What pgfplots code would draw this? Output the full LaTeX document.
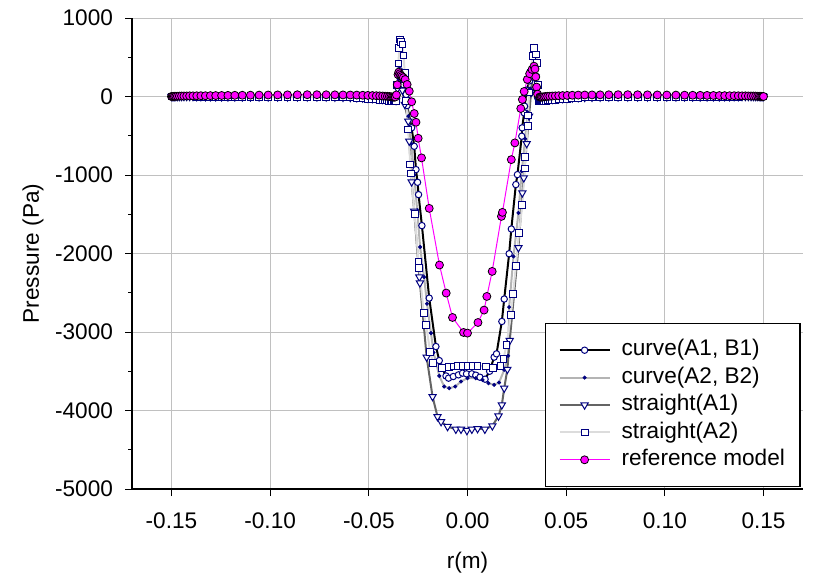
\documentclass[border=0pt]{standalone}
\usepackage{fontspec}
\setmainfont{Liberation Sans}
\usepackage{pgfplots}
\pgfplotsset{compat=1.18}
\usepackage{pgfplotstable}
\definecolor{navy}{HTML}{000080}
\definecolor{gridc}{HTML}{C0C0C0}
\definecolor{lgray}{HTML}{B4B4B4}
\definecolor{dgray}{HTML}{646464}
\definecolor{vlgray}{HTML}{DCDCDC}
\definecolor{mag}{HTML}{FF00FF}
\newcommand{\fnt}{\fontsize{11.3bp}{13.3bp}\selectfont}

% columns: c1 = curve(A1,B1), c2 = curve(A2,B2), s1 = straight(A1), s2 = straight(A2), ref = reference model
\pgfplotstableread{
x c1 c2 s1 s2 ref
-0.1500 0 0 0 0 0
-0.1496 0 0 0 0 0
-0.1491 0 0 0 0 1
-0.1485 0 0 0 0 2
-0.1478 0 0 0 0 3
-0.1470 0 0 0 0 4
-0.1460 0 0 0 0 5
-0.1449 0 0 0 0 6
-0.1437 0 0 0 0 6
-0.1423 0 0 0 0 7
-0.1408 0 0 0 0 8
-0.1391 0 0 0 0 8
-0.1372 -2 -2 -2 -2 9
-0.1351 -2 -2 -2 -2 10
-0.1328 -3 -3 -3 -3 10
-0.1303 -3 -3 -3 -3 11
-0.1276 -4 -4 -4 -4 12
-0.1246 -4 -4 -4 -4 13
-0.1214 -5 -5 -5 -5 14
-0.1179 -5 -5 -5 -5 15
-0.1141 -5 -5 -5 -5 16
-0.1100 -5 -5 -5 -5 17
-0.1056 -5 -5 -5 -5 18
-0.1010 -5 -5 -5 -5 19
-0.0962 -5 -5 -5 -5 20
-0.0912 -5 -5 -5 -5 21
-0.0862 -5 -5 -5 -5 22
-0.0812 -5 -5 -5 -5 23
-0.0763 -5 -5 -5 -5 23
-0.0716 -6 -6 -6 -6 22
-0.0672 -8 -8 -8 -8 21
-0.0631 -10 -10 -10 -10 20
-0.0594 -12 -12 -12 -14 19
-0.0561 -15 -15 -15 -18 18
-0.0531 -18 -18 -18 -22 16
-0.0505 -22 -22 -22 -27 14
-0.0482 -26 -26 -26 -32 12
-0.0462 -30 -30 -30 -37 10
-0.0445 -33 -33 -33 -42 8
-0.0430 -36 -36 -36 -46 6
-0.0417 -38 -38 -38 -50 4
-0.0406 -40 -40 -40 -52 2
-0.0396 -40 -40 -40 -54 0
-0.0388 -40 -40 -40 -55 -3
-0.0381 -40 -40 -40 -55 -6
-0.0375 -38 -38 -38 -55 -8
-0.0370 -36 -36 -36 -55 -8
-0.0366 -34 -34 -34 -55 -6
-0.0360 -30 nan nan nan nan
-0.0354 150 nan nan nan nan
-0.0349 300 nan nan nan nan
-0.0344 330 nan nan nan nan
-0.0337 260 nan nan nan nan
-0.0326 150 nan nan nan nan
-0.0318 80 nan nan nan nan
-0.0311 26 nan nan nan nan
-0.0306 -115 nan nan nan nan
-0.0283 -399 nan nan nan nan
-0.0270 -634 nan nan nan nan
-0.0261 -931 nan nan nan nan
-0.0253 -1093 nan nan nan nan
-0.0248 -1250 nan nan nan nan
-0.0231 -1645 nan nan nan nan
-0.0194 -2568 nan nan nan nan
-0.0160 -3185 nan nan nan nan
-0.0143 -3364 nan nan nan nan
-0.0131 -3450 nan nan nan nan
-0.0109 -3560 nan nan nan nan
-0.0096 -3588 nan nan nan nan
-0.0072 -3567 nan nan nan nan
-0.0046 -3546 nan nan nan nan
-0.0025 -3524 nan nan nan nan
-0.0005 -3533 nan nan nan nan
0.0022 -3533 nan nan nan nan
0.0042 -3550 nan nan nan nan
0.0063 -3576 nan nan nan nan
0.0089 -3601 nan nan nan nan
0.0112 -3500 nan nan nan nan
0.0135 -3320 nan nan nan nan
0.0147 -3278 nan nan nan nan
0.0174 -2866 nan nan nan nan
0.0186 -2580 nan nan nan nan
0.0211 -2003 nan nan nan nan
0.0222 -1688 nan nan nan nan
0.0245 -1122 nan nan nan nan
0.0253 -995 nan nan nan nan
0.0275 -506 nan nan nan nan
0.0277 -399 nan nan nan nan
0.0287 -208 nan nan nan nan
0.0289 -124 nan nan nan nan
0.0300 80 nan nan nan nan
0.0315 200 nan nan nan nan
0.0328 300 nan nan nan nan
0.0336 340 nan nan nan nan
0.0344 260 nan nan nan nan
0.0350 120 nan nan nan nan
0.0356 -20 nan nan nan nan
-0.0360 nan -40 nan nan nan
-0.0354 nan 120 nan nan nan
-0.0348 nan 280 nan nan nan
-0.0342 nan 320 nan nan nan
-0.0335 nan 250 nan nan nan
-0.0325 nan 100 nan nan nan
-0.0312 nan -50 nan nan nan
-0.0300 nan -250 nan nan nan
-0.0285 nan -600 nan nan nan
-0.0270 nan -1000 nan nan nan
-0.0255 nan -1450 nan nan nan
-0.0240 nan -1917 nan nan nan
-0.0220 nan -2300 nan nan nan
-0.0205 nan -2640 nan nan nan
-0.0185 nan -3014 nan nan nan
-0.0172 nan -3261 nan nan nan
-0.0143 nan -3559 nan nan nan
-0.0118 nan -3695 nan nan nan
-0.0093 nan -3716 nan nan nan
-0.0062 nan -3695 nan nan nan
-0.0033 nan -3631 nan nan nan
0.0000 nan -3588 nan nan nan
0.0042 nan -3588 nan nan nan
0.0076 nan -3610 nan nan nan
0.0106 nan -3652 nan nan nan
0.0135 nan -3673 nan nan nan
0.0160 nan -3644 nan nan nan
0.0186 nan -3482 nan nan nan
0.0206 nan -3304 nan nan nan
0.0211 nan -2683 nan nan nan
0.0233 nan -2037 nan nan nan
0.0258 nan -1484 nan nan nan
0.0275 nan -950 nan nan nan
0.0292 nan -540 nan nan nan
0.0305 nan -200 nan nan nan
0.0318 nan 100 nan nan nan
0.0328 nan 280 nan nan nan
0.0336 nan 330 nan nan nan
0.0343 nan 250 nan nan nan
0.0350 nan 100 nan nan nan
0.0357 nan -30 nan nan nan
-0.0362 nan nan -50 nan nan
-0.0355 nan nan 100 nan nan
-0.0350 nan nan 250 nan nan
-0.0345 nan nan 300 nan nan
-0.0338 nan nan 220 nan nan
-0.0330 nan nan 80 nan nan
-0.0318 nan nan -100 nan nan
-0.0300 nan nan -315 nan nan
-0.0295 nan nan -570 nan nan
-0.0283 nan nan -1088 nan nan
-0.0270 nan nan -1463 nan nan
-0.0244 nan nan -2300 nan nan
-0.0241 nan nan -2376 nan nan
-0.0207 nan nan -3320 nan nan
-0.0177 nan nan -3823 nan nan
-0.0152 nan nan -4078 nan nan
-0.0134 nan nan -4142 nan nan
-0.0101 nan nan -4205 nan nan
-0.0059 nan nan -4239 nan nan
-0.0033 nan nan -4239 nan nan
-0.0003 nan nan -4256 nan nan
0.0022 nan nan -4239 nan nan
0.0051 nan nan -4231 nan nan
0.0088 nan nan -4239 nan nan
0.0126 nan nan -4196 nan nan
0.0157 nan nan -4071 nan nan
0.0174 nan nan -3929 nan nan
0.0186 nan nan -3716 nan nan
0.0202 nan nan -3476 nan nan
0.0214 nan nan -3108 nan nan
0.0258 nan nan -1926 nan nan
0.0278 nan nan -1228 nan nan
0.0285 nan nan -1037 nan nan
0.0300 nan nan -600 nan nan
0.0312 nan nan -250 nan nan
0.0322 nan nan 50 nan nan
0.0330 nan nan 250 nan nan
0.0337 nan nan 330 nan nan
0.0345 nan nan 250 nan nan
0.0352 nan nan 100 nan nan
0.0358 nan nan -40 nan nan
-0.0362 nan nan nan -60 nan
-0.0356 nan nan nan 150 nan
-0.0350 nan nan nan 420 nan
-0.0346 nan nan nan 620 nan
-0.0342 nan nan nan 727 nan
-0.0337 nan nan nan 693 nan
-0.0329 nan nan nan 663 nan
-0.0324 nan nan nan 523 nan
-0.0318 nan nan nan 300 nan
-0.0311 nan nan nan -60 nan
-0.0300 nan nan nan -420 nan
-0.0290 nan nan nan -867 nan
-0.0287 nan nan nan -982 nan
-0.0268 nan nan nan -1500 nan
-0.0248 nan nan nan -2113 nan
-0.0244 nan nan nan -2185 nan
-0.0222 nan nan nan -2759 nan
-0.0210 nan nan nan -2908 nan
-0.0189 nan nan nan -3256 nan
-0.0173 nan nan nan -3397 nan
-0.0128 nan nan nan -3460 nan
-0.0093 nan nan nan -3448 nan
-0.0071 nan nan nan -3440 nan
-0.0051 nan nan nan -3431 nan
-0.0025 nan nan nan -3431 nan
0.0000 nan nan nan -3431 nan
0.0025 nan nan nan -3431 nan
0.0051 nan nan nan -3431 nan
0.0093 nan nan nan -3440 nan
0.0131 nan nan nan -3460 nan
0.0167 nan nan nan -3431 nan
0.0182 nan nan nan -3346 nan
0.0198 nan nan nan -3163 nan
0.0220 nan nan nan -2780 nan
0.0231 nan nan nan -2513 nan
0.0245 nan nan nan -2164 nan
0.0261 nan nan nan -1739 nan
0.0278 nan nan nan -1378 nan
0.0290 nan nan nan -918 nan
0.0293 nan nan nan -769 nan
0.0305 nan nan nan -379 nan
0.0307 nan nan nan -242 nan
0.0312 nan nan nan 50 nan
0.0320 nan nan nan 300 nan
0.0329 nan nan nan 514 nan
0.0337 nan nan nan 621 nan
0.0346 nan nan nan 536 nan
0.0354 nan nan nan 430 nan
0.0358 nan nan nan 150 nan
0.0362 nan nan nan -60 nan
-0.0360 nan nan nan nan 20
-0.0356 nan nan nan nan 150
-0.0352 nan nan nan nan 280
-0.0348 nan nan nan nan 310
-0.0343 nan nan nan nan 290
-0.0338 nan nan nan nan 270
-0.0332 nan nan nan nan 255
-0.0325 nan nan nan nan 240
-0.0316 nan nan nan nan 217
-0.0306 nan nan nan nan 153
-0.0295 nan nan nan nan 68
-0.0283 nan nan nan nan -67
-0.0270 nan nan nan nan -217
-0.0261 nan nan nan nan -328
-0.0250 nan nan nan nan -532
-0.0233 nan nan nan nan -782
-0.0194 nan nan nan nan -1425
-0.0142 nan nan nan nan -2147
-0.0108 nan nan nan nan -2504
-0.0076 nan nan nan nan -2815
-0.0020 nan nan nan nan -3006
0.0000 nan nan nan nan -3014
0.0053 nan nan nan nan -2879
0.0084 nan nan nan nan -2721
0.0098 nan nan nan nan -2547
0.0125 nan nan nan nan -2228
0.0172 nan nan nan nan -1527
0.0177 nan nan nan nan -1476
0.0222 nan nan nan nan -804
0.0240 nan nan nan nan -591
0.0270 nan nan nan nan -153
0.0278 nan nan nan nan -38
0.0287 nan nan nan nan 64
0.0303 nan nan nan nan 217
0.0315 nan nan nan nan 290
0.0327 nan nan nan nan 344
0.0337 nan nan nan nan 386
0.0342 nan nan nan nan 350
0.0346 nan nan nan nan 250
0.0350 nan nan nan nan 120
0.0355 nan nan nan nan 30
0.0366 -34 -34 -34 -55 -6
0.0370 -36 -36 -36 -55 -8
0.0375 -38 -38 -38 -55 -8
0.0381 -40 -40 -40 -55 -6
0.0388 -40 -40 -40 -55 -3
0.0396 -40 -40 -40 -54 0
0.0406 -40 -40 -40 -52 2
0.0417 -38 -38 -38 -50 4
0.0430 -36 -36 -36 -46 6
0.0445 -33 -33 -33 -42 8
0.0462 -30 -30 -30 -37 10
0.0482 -26 -26 -26 -32 12
0.0505 -22 -22 -22 -27 14
0.0531 -18 -18 -18 -22 16
0.0561 -15 -15 -15 -18 18
0.0594 -12 -12 -12 -14 19
0.0631 -10 -10 -10 -10 20
0.0672 -8 -8 -8 -8 21
0.0716 -6 -6 -6 -6 22
0.0763 -5 -5 -5 -5 23
0.0812 -5 -5 -5 -5 23
0.0862 -5 -5 -5 -5 22
0.0912 -5 -5 -5 -5 21
0.0962 -5 -5 -5 -5 20
0.1010 -5 -5 -5 -5 19
0.1056 -5 -5 -5 -5 18
0.1100 -5 -5 -5 -5 17
0.1141 -5 -5 -5 -5 16
0.1179 -5 -5 -5 -5 15
0.1214 -5 -5 -5 -5 14
0.1246 -4 -4 -4 -4 13
0.1276 -4 -4 -4 -4 12
0.1303 -3 -3 -3 -3 11
0.1328 -3 -3 -3 -3 10
0.1351 -2 -2 -2 -2 10
0.1372 -2 -2 -2 -2 9
0.1391 0 0 0 0 8
0.1408 0 0 0 0 8
0.1423 0 0 0 0 7
0.1437 0 0 0 0 6
0.1449 0 0 0 0 6
0.1460 0 0 0 0 5
0.1470 0 0 0 0 4
0.1478 0 0 0 0 3
0.1485 0 0 0 0 2
0.1491 0 0 0 0 1
0.1496 0 0 0 0 0
0.1500 0 0 0 0 0
}\datatab

\begin{document}
\begin{tikzpicture}
\begin{axis}[
  scale only axis, width=335.5bp, height=235.5bp,
  xmin=-0.17, xmax=0.17, ymin=-5000, ymax=1000,
  axis x line*=bottom, axis y line*=left,
  axis line style={black, line width=0.6bp},
  xtick={-0.15,-0.10,-0.05,0,0.05,0.10,0.15},
  xticklabels={-0.15,-0.10,-0.05,0.00,0.05,0.10,0.15},
  ytick={-5000,-4000,-3000,-2000,-1000,0,1000},
  yticklabels={-5000,-4000,-3000,-2000,-1000,0,1000},
  minor y tick num=1,
  tick align=outside, major tick length=3.5bp, minor tick length=2bp,
  tick style={black, line width=0.5bp},
  grid=major, major grid style={gridc, line width=0.5bp},
  tick label style={font=\fnt},
  xticklabel style={yshift=-5bp},
  yticklabel style={xshift=-2.5bp},
  label style={font=\fnt},
  xlabel={r(m)}, ylabel={Pressure (Pa)},
  xlabel style={at={(axis description cs:0.5,-0.157)}, anchor=center},
  ylabel style={at={(axis description cs:-0.1475,0.5)}, anchor=center},
  legend style={at={(0.6155,0.004)}, anchor=south west, draw=black, line width=0.6bp,
    font=\fnt, inner xsep=6.5bp, inner ysep=6.5bp, column sep=4.5bp,
    nodes={inner xsep=1bp, inner ysep=1.5bp, text height=8.2bp, text depth=2.5bp}},
  legend cell align=left,
  legend image code/.code={\draw[mark repeat=2,mark phase=2] plot coordinates {(0bp,0bp) (12.5bp,0bp) (25bp,0bp)};},
]
\addplot[black, line width=1bp, mark=*, mark size=1.6bp, mark options={solid, draw=navy, fill=white, line width=0.5bp}] table[x=x, y=c1]{\datatab};
\addplot[lgray, line width=1bp, mark=*, mark size=0.8bp, mark options={solid, draw=navy, fill=navy, line width=0.4bp}] table[x=x, y=c2]{\datatab};
\addplot[dgray, line width=1bp, mark=triangle*, mark size=2.1bp, mark options={solid, draw=navy, fill=white, line width=0.5bp, rotate=180}] table[x=x, y=s1]{\datatab};
\addplot[vlgray, line width=1bp, mark=square*, mark size=1.7bp, mark options={solid, draw=navy, fill=white, line width=0.5bp}] table[x=x, y=s2]{\datatab};
\addplot[mag, line width=0.5bp, mark=*, mark size=2bp, mark options={solid, draw=black, fill=mag, line width=0.4bp}] table[x=x, y=ref]{\datatab};
\legend{{curve(A1, B1)}, {curve(A2, B2)}, {straight(A1)}, {straight(A2)}, {reference model}}
\end{axis}
\pgfresetboundingbox
\path[use as bounding box] (-66bp,-45bp) rectangle (344.5bp,244.5bp);
\end{tikzpicture}
\end{document}
